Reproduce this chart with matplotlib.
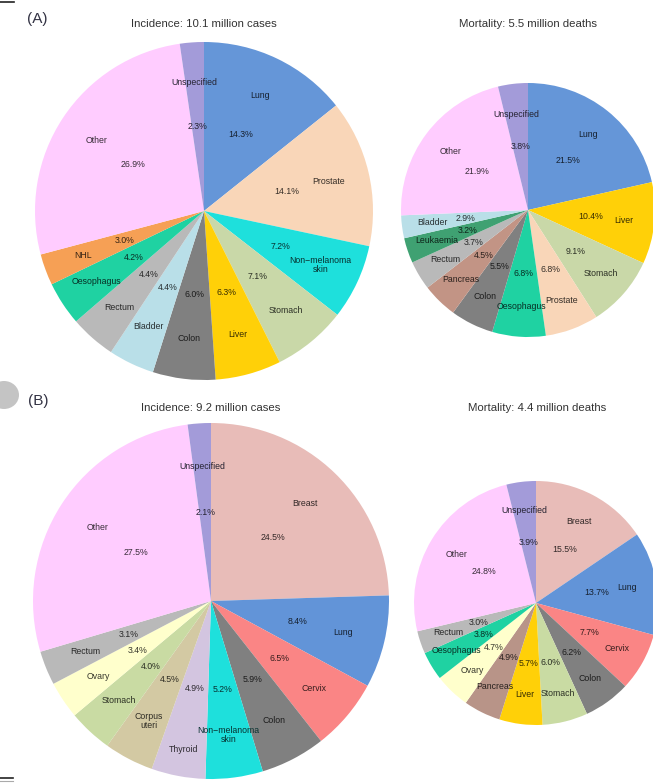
import matplotlib
matplotlib.use("Agg")
import numpy as np
import matplotlib.pyplot as plt
from matplotlib.colors import to_rgb
from matplotlib.patches import Ellipse
from matplotlib.lines import Line2D

plt.rcParams['font.family'] = ['Liberation Sans', 'DejaVu Sans']

# (A) men
a_inc_labels = ["Lung", "Prostate", "Non\u2212melanoma\nskin", "Stomach", "Liver", "Colon",
                "Bladder", "Rectum", "Oesophagus", "NHL", "Other", "Unspecified"]
a_inc_values = [14.3, 14.1, 7.2, 7.1, 6.3, 6.0, 4.4, 4.4, 4.2, 3.0, 26.9, 2.3]
a_inc_colors = ["#6596d8", "#f9d6b8", "#1ee0dc", "#c9d8a8", "#ffd008", "#808080",
                "#b9dfe8", "#b9b9b9", "#1fd2a2", "#f6a055", "#ffccff", "#a39bd9"]

a_mort_labels = ["Lung", "Liver", "Stomach", "Prostate", "Oesophagus", "Colon",
                 "Pancreas", "Rectum", "Leukaemia", "Bladder", "Other", "Unspecified"]
a_mort_values = [21.5, 10.4, 9.1, 6.8, 6.8, 5.5, 4.5, 3.7, 3.2, 2.9, 21.9, 3.8]
a_mort_colors = ["#6596d8", "#ffd008", "#c9d8a8", "#f9d6b8", "#1fd2a2", "#808080",
                 "#c29485", "#b9b9b9", "#3fa172", "#b9dfe8", "#ffccff", "#a39bd9"]

# (B) women
b_inc_labels = ["Breast", "Lung", "Cervix", "Colon", "Non\u2212melanoma\nskin", "Thyroid",
                "Corpus\nuteri", "Stomach", "Ovary", "Rectum", "Other", "Unspecified"]
b_inc_values = [24.5, 8.4, 6.5, 5.9, 5.2, 4.9, 4.5, 4.0, 3.4, 3.1, 27.5, 2.1]
b_inc_colors = ["#e8bcb8", "#6294d8", "#fa8585", "#808080", "#1ee0dc", "#d3c5e0",
                "#d3c9a3", "#c9dba3", "#ffffcc", "#b9b9b9", "#ffccff", "#a39bd9"]

b_mort_labels = ["Breast", "Lung", "Cervix", "Colon", "Stomach", "Liver",
                 "Pancreas", "Ovary", "Oesophagus", "Rectum", "Other", "Unspecified"]
b_mort_values = [15.5, 13.7, 7.7, 6.2, 6.0, 5.7, 4.9, 4.7, 3.8, 3.0, 24.8, 3.9]
b_mort_colors = ["#e8bcb8", "#6294d8", "#fa8585", "#808080", "#c9dba3", "#ffd008",
                 "#b89488", "#ffffcc", "#1fd2a2", "#b9b9b9", "#ffccff", "#a39bd9"]

W, H = 653, 783
fig = plt.figure(figsize=(W / 100, H / 100), dpi=100)


def dark(c, k=0.22):
    r, g, b = to_rgb(c)
    return (r * k, g * k, b * k)


def draw_pie(cx, cy, r, labels, values, colors, nudge=None):
    """pie centred at pixel (cx, cy) with radius r pixels"""
    pad = 1.02
    ax = fig.add_axes([(cx - r * pad) / W, 1 - (cy + r * pad) / H,
                       2 * r * pad / W, 2 * r * pad / H])
    wedges, texts, autotexts = ax.pie(values, labels=labels, colors=colors,
                                      startangle=90, counterclock=False,
                                      autopct='%1.1f%%', labeldistance=0.76,
                                      pctdistance=0.5,
                                      textprops={'fontsize': 6.3})
    for t, v, c in zip(autotexts, values, colors):
        t.set_text(f"{v:.1f}%")
        t.set_color(dark(c))
    for t, c in zip(texts, colors):
        t.set_ha('center')
        t.set_va('center')
        t.set_color(dark(c))
        t.set_linespacing(0.95)
    # push a crowded label further out along its wedge
    for i, d in (nudge or {}).items():
        ang = np.deg2rad((wedges[i].theta1 + wedges[i].theta2) / 2)
        texts[i].set_position((d * np.cos(ang), d * np.sin(ang)))
    ax.set_xlim(-pad, pad)
    ax.set_ylim(-pad, pad)
    ax.set_aspect('equal')
    ax.axis('off')
    return ax


draw_pie(204, 211, 169, a_inc_labels, a_inc_values, a_inc_colors)
draw_pie(528, 210, 127, a_mort_labels, a_mort_values, a_mort_colors)
draw_pie(211, 601, 178, b_inc_labels, b_inc_values, b_inc_colors, nudge={5: 0.85})
draw_pie(536, 603, 122, b_mort_labels, b_mort_values, b_mort_colors)


def ftext(x, y, s, **kw):
    fig.text(x / W, 1 - y / H, s, **kw)


ftext(27, 19, "(A)", fontsize=11, color="#333344", va='center')
ftext(28, 401, "(B)", fontsize=11, color="#333344", va='center')
ftext(204, 24, "Incidence: 10.1 million cases", fontsize=8.2, color="#333333", ha='center', va='center')
ftext(528, 24, "Mortality: 5.5 million deaths", fontsize=8.2, color="#333333", ha='center', va='center')
ftext(211, 408, "Incidence: 9.2 million cases", fontsize=8.2, color="#333333", ha='center', va='center')
ftext(537, 408, "Mortality: 4.4 million deaths", fontsize=8.2, color="#333333", ha='center', va='center')

# page edge bits
fig.add_artist(Line2D([0, 14 / W], [1 - 1.5 / H, 1 - 1.5 / H], color="#222222", lw=1.2))
fig.add_artist(Line2D([0, 13 / W], [1 - 778 / H, 1 - 778 / H], color="#222222", lw=1.2))
fig.add_artist(Line2D([0, 13 / W], [1 - 781 / H, 1 - 781 / H], color="#aaaaaa", lw=0.8))
fig.add_artist(Ellipse((4 / W, 1 - 395 / H), 30 / W, 28 / H, color="#c4c4c4", lw=0))

fig.savefig("out.png", dpi=100)
